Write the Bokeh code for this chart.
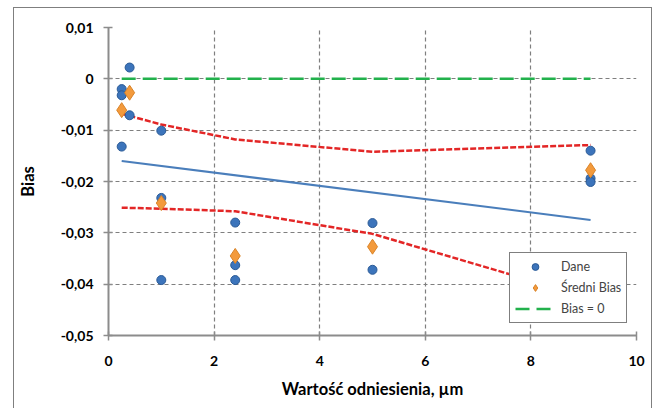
from bokeh.plotting import figure
from bokeh.models import FixedTicker, Legend, LegendItem, Range1d
from bokeh.embed import file_html
from bokeh.resources import INLINE

# ---- data ----
dane_x = [0.25, 0.25, 0.25, 0.4, 0.4, 1.0, 1.0, 1.0, 2.4, 2.4, 2.4, 5.0, 5.0, 9.13, 9.13, 9.13]
dane_y = [-0.0020, -0.0032, -0.0132, 0.0022, -0.0071, -0.0101, -0.0232, -0.0392,
          -0.0280, -0.0363, -0.0392, -0.0281, -0.0372, -0.0140, -0.0194, -0.0201]

mean_x = [0.25, 0.4, 1.0, 2.4, 5.0, 9.13]
mean_y = [-0.0061, -0.0027, -0.0242, -0.0345, -0.0327, -0.0178]

fit_x = [0.25, 9.13]
fit_y = [-0.0160, -0.0275]

upper_x = [0.25, 1.0, 2.4, 5.0, 9.13]
upper_y = [-0.0068, -0.0089, -0.0118, -0.0142, -0.0129]

lower_x = [0.25, 1.0, 2.4, 5.0, 9.13]
lower_y = [-0.0251, -0.0253, -0.0258, -0.0302, -0.0427]

zero_x = [0.25, 9.13]
zero_y = [0.0, 0.0]

x_ticks = [0, 2, 4, 6, 8, 10]
x_tick_labels = ["0", "2", "4", "6", "8", "10"]
y_ticks = [0.01, 0.0, -0.01, -0.02, -0.03, -0.04, -0.05]
y_tick_labels = ["0,01", "0", "-0,01", "-0,02", "-0,03", "-0,04", "-0,05"]

FONT = "Lato"
GRID = "#7f7f7f"

p = figure(width=639, height=401, output_backend="svg", toolbar_location=None,
           x_range=Range1d(0, 10), y_range=Range1d(-0.05, 0.01),
           min_border_left=94, min_border_right=17, min_border_top=19, min_border_bottom=74)
p.margin = (7, 0, 0, 13)
p.styles = {"border-top": "1px solid #7f7f7f", "border-left": "1px solid #7f7f7f",
            "border-right": "1px solid #7f7f7f"}
p.outline_line_color = None
p.background_fill_color = "white"
p.border_fill_color = "white"

# axes
p.xaxis.ticker = FixedTicker(ticks=x_ticks)
p.yaxis.ticker = FixedTicker(ticks=y_ticks)
p.xaxis.major_label_overrides = {t: l for t, l in zip(x_ticks, x_tick_labels)}
p.yaxis.major_label_overrides = {t: l for t, l in zip(y_ticks, y_tick_labels)}
for ax in (p.xaxis, p.yaxis):
    ax.axis_line_color = "#8c8c8c"
    ax.axis_line_width = 2
    ax.major_tick_line_color = "#8c8c8c"
    ax.major_tick_line_width = 1.5
    ax.major_tick_in = 4
    ax.major_tick_out = 5
    ax.minor_tick_line_color = None
    ax.major_label_text_font = FONT
    ax.major_label_text_font_style = "bold"
    ax.major_label_text_font_size = "14px"
    ax.major_label_text_color = "black"
    ax.axis_label_text_font = FONT
    ax.axis_label_text_font_style = "bold"
    ax.axis_label_text_font_size = "16.5px"
    ax.axis_label_text_color = "black"
p.xaxis.axis_label = "Wartość odniesienia, µm"
p.yaxis.axis_label = "Bias"
p.xaxis.major_label_standoff = 15
p.yaxis.major_label_standoff = 10
p.xaxis.axis_label_standoff = 10
p.yaxis.axis_label_standoff = 20

p.grid.grid_line_color = GRID
p.grid.grid_line_dash = "4 3"
p.grid.grid_line_width = 1.2

r_up = p.line(upper_x, upper_y, line_color="#e32626", line_width=2.5, line_dash="6 2")
r_lo = p.line(lower_x, lower_y, line_color="#e32626", line_width=2.5, line_dash="6 2")
r_fit = p.line(fit_x, fit_y, line_color="#4a7ebb", line_width=2)
r_zero = p.line(zero_x, zero_y, line_color="#22b14c", line_width=2.5, line_dash="14 7")
r_dane = p.scatter(dane_x, dane_y, marker="circle", size=9, fill_color="#3c74bb",
                   line_color="#2a5a96", line_width=1)
r_mean = p.scatter(mean_x, mean_y, marker="diamond", size=15, fill_color="#f39a3c",
                   line_color="#d98328", line_width=1)

legend = Legend(items=[LegendItem(label="Dane", renderers=[r_dane]),
                       LegendItem(label="Średni Bias", renderers=[r_mean]),
                       LegendItem(label="Bias = 0", renderers=[r_zero])],
                location=(401, 12))
legend.border_line_color = "black"
legend.border_line_width = 1.5
legend.background_fill_alpha = 1
legend.label_text_font = FONT
legend.label_text_font_size = "12.5px"
legend.padding = 5
legend.spacing = 4
legend.margin = 0
legend.glyph_width = 40
legend.glyph_height = 17
legend.label_height = 17
legend.label_standoff = 6
p.add_layout(legend, "center")

open("out.html", "w").write(file_html(p, INLINE))
